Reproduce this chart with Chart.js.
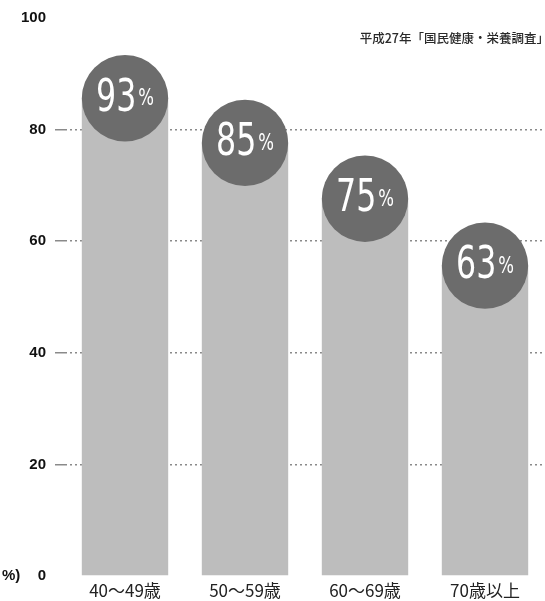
<!DOCTYPE html>
<html>
<head>
<meta charset="utf-8">
<script src="https://cdn.jsdelivr.net/npm/chart.js@4"></script>
<style>
  html, body { margin: 0; padding: 0; background: #fff; }
  #wrap { width: 545px; height: 601px; position: relative; }
</style>
</head>
<body>
<div id="wrap"><canvas id="bar-chart"></canvas></div>
<script>
// chart data
const categories = ['40〜49歳', '50〜59歳', '60〜69歳', '70歳以上'];
const values = [93, 85, 75, 63];
const y_ticks = [0, 20, 40, 60, 80, 100];
const source_note = '平成27年「国民健康・栄養調査」';
const unit_note = '%)';

const NARROW = '"DejaVu Sans", sans-serif';
const TICK = '"Liberation Sans", Arial, sans-serif';
const JP = '"Noto Sans CJK JP", sans-serif';

// circles with the percentage on top of each bar
const bubble_plugin = {
    id: 'bubbles',
    afterDatasetsDraw(chart) {
        const ctx = chart.ctx;
        const meta = chart.getDatasetMeta(0);
        const squeeze = 0.72;
        meta.data.forEach((bar, i) => {
            const r = bar.width / 2;
            const cx = bar.x;
            const cy = bar.y + r - 2;
            ctx.save();
            ctx.beginPath();
            ctx.arc(cx, cy, r, 0, Math.PI * 2);
            ctx.fillStyle = '#6c6c6c';
            ctx.fill();

            const num = String(values[i]);
            ctx.fillStyle = '#ffffff';
            ctx.textBaseline = 'middle';
            ctx.textAlign = 'left';
            ctx.font = '44px ' + NARROW;
            const w1 = ctx.measureText(num).width * squeeze;
            ctx.font = '23px ' + NARROW;
            const w2 = ctx.measureText('%').width * squeeze;
            const start = cx - (w1 + w2 + 2) / 2;
            ctx.translate(start, cy + 1);
            ctx.scale(squeeze, 1);
            ctx.font = '44px ' + NARROW;
            ctx.fillText(num, 0, 0);
            ctx.font = '23px ' + NARROW;
            ctx.fillText('%', (w1 + 2) / squeeze, 0);
            ctx.restore();
        });
    }
};

// source note top right, unit note bottom left
const notes_plugin = {
    id: 'notes',
    afterDraw(chart) {
        const ctx = chart.ctx;
        ctx.save();
        ctx.fillStyle = '#2a2a2a';
        ctx.textBaseline = 'middle';
        ctx.textAlign = 'right';
        ctx.font = '500 12.5px ' + JP;
        ctx.fillText(source_note, 549, 38);
        ctx.textAlign = 'left';
        ctx.font = 'bold 15px ' + TICK;
        ctx.fillStyle = '#111';
        ctx.fillText(unit_note, 2, chart.scales.y.getPixelForValue(0));
        ctx.restore();
    }
};

const ctx = document.getElementById('bar-chart').getContext('2d');

const data = {
    labels: categories,
    datasets: [{
        data: values,
        backgroundColor: '#bdbdbd',
        borderWidth: 0,
        borderSkipped: 'bottom',
        borderRadius: { topLeft: 50, topRight: 50, bottomLeft: 0, bottomRight: 0 },
        barPercentage: 0.72,
        categoryPercentage: 1.0
    }]
};

const options = {
    responsive: true,
    maintainAspectRatio: false,
    animation: false,
    layout: { padding: { top: 17, right: 0, bottom: 0, left: 0 } },
    plugins: {
        legend: { display: false },
        tooltip: { enabled: false }
    },
    scales: {
        x: {
            grid: { display: false },
            border: { display: false },
            ticks: {
                color: '#222',
                font: { family: JP, size: 17 },
                padding: -4,
                maxRotation: 0
            },
            afterFit(scale) { scale.height = 25; }
        },
        y: {
            min: 0,
            max: 100,
            afterBuildTicks(scale) { scale.ticks = y_ticks.map(v => ({ value: v })); },
            border: { display: false, dash: [2, 3] },
            grid: {
                color(c) { return (c.tick.value === 0 || c.tick.value === 100) ? 'rgba(0,0,0,0)' : '#8a8a8a'; },
                lineWidth: 1.5,
                tickLength: 10
            },
            ticks: {
                color: '#111',
                font: { family: TICK, size: 15, weight: 'bold' },
                padding: 9
            },
            afterFit(scale) { scale.width = 65; }
        }
    }
};

const bar_chart = new Chart(ctx, {
    type: 'bar',
    data: data,
    options: options,
    plugins: [bubble_plugin, notes_plugin]
});
</script>
</body>
</html>
